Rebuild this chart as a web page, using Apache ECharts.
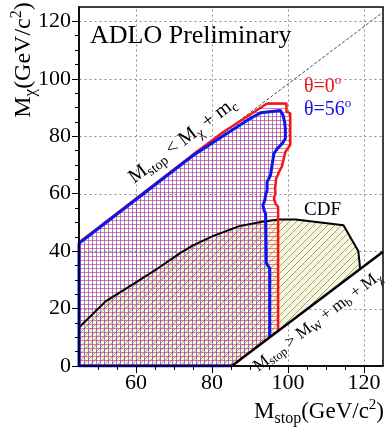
<!DOCTYPE html>
<html><head><meta charset="utf-8">
<script src="https://cdn.jsdelivr.net/npm/echarts@6/dist/echarts.min.js"></script>
<style>html,body{margin:0;padding:0;background:#fff}#c{width:385px;height:429px}</style>
</head><body><div id="c"></div>
<script>
// ---- axis ticks ----
const xMajorTicks = [60, 80, 100, 120];
const xMinorTicks = [50, 55, 60, 65, 70, 75, 80, 85, 90, 95, 100, 105, 110, 115, 120];
const yMajorTicks = [0, 20, 40, 60, 80, 100, 120];
const yMinorTicks = [5, 10, 15, 20, 25, 30, 35, 40, 45, 50, 55, 60, 65, 70, 75, 80, 85, 90, 95, 100, 105, 110, 115, 120];
const xGridLines = [60, 80, 100, 120];
const yGridLines = [20, 40, 60, 80, 100, 120];
const xRange = [45, 125];
const yRange = [0, 125];

// ---- excluded region boundaries (M_stop, M_chi) ----
const theta0Region = [[45,0],[45,43.0],[75,73.6],[82.8,81.3],[94.5,91.4],[99.6,91.4],[99.6,88.5],[100.6,88.0],[100.6,77.0],[99.3,74.5],[98.4,69.5],[97.8,68.0],[96.9,65.3],[96.6,61.8],[96.7,60.0],[96.3,58.3],[96.7,56.6],[97.4,55.4],[97.4,12.2],[85.2,0]];
const theta0Outline = [[97.4,12.2],[97.4,55.4],[96.7,56.6],[96.3,58.3],[96.7,60.0],[96.6,61.8],[96.9,65.3],[97.8,68.0],[98.4,69.5],[99.3,74.5],[100.6,77.0],[100.6,88.0],[99.6,88.5],[99.6,91.4],[94.5,91.4],[82.8,81.3],[75,73.6],[45,43.0]];
const theta56Region = [[45,0],[45,42.7],[75,73.3],[82.8,80.0],[89.3,85.6],[92.8,88.2],[98.0,89.0],[98.7,87.3],[99.1,85.0],[99.3,82.7],[99.3,79.2],[98.5,77.5],[97.2,75.7],[96.3,74.0],[95.8,69.9],[95.4,66.4],[94.5,64.1],[94.5,61.2],[94.1,59.5],[93.9,57.7],[93.4,56.0],[93.7,54.3],[94.1,53.1],[94.3,35.7],[95.2,34.0],[95.2,10.0],[85.2,0]];
const theta56Outline = [[95.2,10.0],[95.2,34.0],[94.3,35.7],[94.1,53.1],[93.7,54.3],[93.4,56.0],[93.9,57.7],[94.1,59.5],[94.5,61.2],[94.5,64.1],[95.4,66.4],[95.8,69.9],[96.3,74.0],[97.2,75.7],[98.5,77.5],[99.3,79.2],[99.3,82.7],[99.1,85.0],[98.7,87.3],[98.0,89.0],[92.8,88.2],[89.3,85.6],[82.8,80.0],[75,73.3],[45,42.7],[45,0],[85.2,0]];
const cdfRegion = [[45,0],[45,13.4],[52,22.5],[60.2,29.3],[66,34.2],[71.5,39.2],[75,42.0],[80.2,45.2],[87.2,48.7],[93.2,50.2],[97.6,51.0],[102,51.0],[114.6,49.0],[118.5,40.0],[118.9,35.0],[118.9,33.7],[85.2,0]];
const cdfOutline = [[45,13.4],[52,22.5],[60.2,29.3],[66,34.2],[71.5,39.2],[75,42.0],[80.2,45.2],[87.2,48.7],[93.2,50.2],[97.6,51.0],[102,51.0],[114.6,49.0],[118.5,40.0],[118.9,35.0],[118.9,33.7]];
const kinematicLine = [[85.2,0],[125,39.8]];   // M_stop = M_W + m_b + M_chi
const charmLine = [[45,43.2],[125,123.2]];     // M_stop = M_chi + m_c

// ---- hatch patterns ----
function hatch(w, h, draw) {
  const c = document.createElement('canvas'); c.width = w; c.height = h;
  draw(c.getContext('2d'), w, h); return c;
}
const redHatch = hatch(4, 4, g => { g.fillStyle = 'rgba(232,80,92,0.75)'; g.fillRect(0, 0, 4, 1); });
const blueHatch = hatch(4, 4, g => { g.fillStyle = 'rgba(96,70,210,0.68)'; g.fillRect(0, 0, 1, 4); });
const cdfHatch = hatch(7, 7, g => {
  g.fillStyle = '#f7f5e4'; g.fillRect(0, 0, 7, 7);
  g.strokeStyle = '#a8a95a'; g.lineWidth = 1; g.beginPath();
  g.moveTo(-1, 8); g.lineTo(8, -1); g.moveTo(-1, 1); g.lineTo(1, -1); g.moveTo(6, 8); g.lineTo(8, 6);
  g.stroke();
});

const SERIF = 'Liberation Serif';
function polySeries(points, fill, z) {
  return {
    type: 'custom', xAxisIndex: 0, yAxisIndex: 0, z: z, silent: true,
    data: [points[0]],
    renderItem: (params, api) => ({
      type: 'polygon',
      shape: { points: points.map(p => api.coord(p)) },
      style: { fill: fill, stroke: null }
    })
  };
}
function lineSeries(points, color, width, z, type) {
  return {
    type: 'line', xAxisIndex: 0, yAxisIndex: 0, z: z, silent: true,
    data: points, showSymbol: false, symbol: 'none', animation: false,
    lineStyle: { color: color, width: width, type: type || 'solid' }
  };
}
const gridStyle = { stroke: '#8c8c8c', lineWidth: 1, lineDash: [2, 3] };
function gridSeries(values, vertical) {
  return {
    type: 'custom', xAxisIndex: 0, yAxisIndex: 0, z: 1, silent: true,
    data: values.map(v => vertical ? [v, yRange[0]] : [xRange[0], v]),
    renderItem: (params, api) => {
      const v = values[params.dataIndex];
      const a = vertical ? api.coord([v, yRange[0]]) : api.coord([xRange[0], v]);
      const b = vertical ? api.coord([v, yRange[1]]) : api.coord([xRange[1], v]);
      return { type: 'line', shape: { x1: Math.round(a[0]) + 0.5, y1: Math.round(a[1]) + 0.5, x2: Math.round(b[0]) + 0.5, y2: Math.round(b[1]) + 0.5 }, style: gridStyle };
    }
  };
}

const chart = echarts.init(document.getElementById('c'), null, { renderer: 'canvas' });
const labelStyle = { fontFamily: SERIF, fontSize: 22, color: '#000' };
const option = {
  animation: false,
  backgroundColor: '#fff',
  grid: { left: 79, right: 2, top: 7, bottom: 63, show: true, borderColor: '#000', borderWidth: 1.5, backgroundColor: 'transparent' },
  xAxis: [
    { type: 'value', min: xRange[0], max: xRange[1], position: 'bottom', z: 10,
      axisLine: { show: true, onZero: false, lineStyle: { color: '#000', width: 1.5 } },
      axisTick: { show: true, inside: false, length: 4, customValues: xMinorTicks, lineStyle: { color: '#000' } },
      axisLabel: { show: false }, splitLine: { show: false } },
    { type: 'value', min: xRange[0], max: xRange[1], position: 'bottom', z: 10,
      axisLine: { show: false, onZero: false },
      axisTick: { show: true, inside: false, length: 7, customValues: xMajorTicks, lineStyle: { color: '#000' } },
      axisLabel: Object.assign({ show: true, margin: 6, customValues: xMajorTicks }, labelStyle),
      splitLine: { show: false } }
  ],
  yAxis: [
    { type: 'value', min: yRange[0], max: yRange[1], position: 'left', z: 10,
      axisLine: { show: true, onZero: false, lineStyle: { color: '#000', width: 1.5 } },
      axisTick: { show: true, inside: false, length: 4, customValues: yMinorTicks, lineStyle: { color: '#000' } },
      axisLabel: { show: false }, splitLine: { show: false } },
    { type: 'value', min: yRange[0], max: yRange[1], interval: 20, position: 'left', z: 10,
      axisLine: { show: false, onZero: false },
      axisTick: { show: true, inside: false, length: 7, customValues: yMajorTicks, lineStyle: { color: '#000' } },
      axisLabel: Object.assign({ show: true, margin: 8, customValues: yMajorTicks }, labelStyle),
      splitLine: { show: false } }
  ],
  series: [
    gridSeries(xGridLines, true),
    gridSeries(yGridLines, false),
    polySeries(cdfRegion, { image: cdfHatch, repeat: 'repeat' }, 2),
    polySeries(theta0Region, { image: redHatch, repeat: 'repeat' }, 3),
    polySeries(theta56Region, { image: blueHatch, repeat: 'repeat' }, 4),
    lineSeries(charmLine, '#444', 1, 5, [3, 2]),
    lineSeries(cdfOutline, '#000', 2, 6),
    lineSeries(theta0Outline, '#f01818', 2.5, 7),
    lineSeries(theta56Outline, '#0a16ee', 3, 8),
    lineSeries(kinematicLine, '#000', 2.5, 9)
  ]
};
chart.setOption(option);

// ---- text annotations ----
const px = p => chart.convertToPixel({ xAxisIndex: 0, yAxisIndex: 0 }, p);
function slopeAngle(line) {
  const a = px(line[0]), b = px(line[1]);
  return Math.atan2(a[1] - b[1], b[0] - a[0]);
}
function rich(size) {
  return {
    m: { fontFamily: SERIF, fontSize: size, lineHeight: Math.round(size * 1.25), verticalAlign: 'middle', fill: '#000' },
    s: { fontFamily: SERIF, fontSize: Math.round(size * 0.7), lineHeight: Math.round(size * 0.7), verticalAlign: 'bottom', fill: '#000' },
    p: { fontFamily: SERIF, fontSize: Math.round(size * 0.65), lineHeight: Math.round(size * 0.65), verticalAlign: 'top', fill: '#000' }
  };
}
const angC = slopeAngle(charmLine);
const angK = slopeAngle(kinematicLine);
const upPos = px([72.3, 78.5]);
const lowPos = px([107.8, 15.6]);
chart.setOption({
  graphic: [
    { type: 'text', x: 90, y: 36, z: 20, style: { text: 'ADLO Preliminary', fontFamily: SERIF, fontSize: 26, fill: '#000', align: 'left', verticalAlign: 'middle' } },
    { type: 'text', x: 304, y: 87, z: 20, style: { text: '{m|θ=0}{p|o}', rich: (() => { const r = rich(20); r.m.fill = '#e81818'; r.p.fill = '#e81818'; return r; })(), align: 'left', verticalAlign: 'middle' } },
    { type: 'text', x: 304, y: 110, z: 20, style: { text: '{m|θ=56}{p|o}', rich: (() => { const r = rich(20); r.m.fill = '#1010e8'; r.p.fill = '#1010e8'; return r; })(), align: 'left', verticalAlign: 'middle' } },
    { type: 'text', x: 304, y: 210, z: 20, style: { text: 'CDF', fontFamily: SERIF, fontSize: 19, fill: '#000', align: 'left', verticalAlign: 'middle' } },
    { type: 'text', x: upPos[0], y: upPos[1], rotation: angC, z: 20, style: { text: '{m|M}{s|stop}{m| < M}{s|χ}{m| + m}{s|c}', rich: rich(20), align: 'center', verticalAlign: 'middle' } },
    { type: 'text', x: lowPos[0], y: lowPos[1], rotation: angK, z: 20, style: { text: '{m|M}{s|stop}{m| > M}{s|W}{m| + m}{s|b}{m| + M}{s|χ}', rich: rich(17), align: 'center', verticalAlign: 'middle' } },
    { type: 'text', x: 24, y: 60, rotation: Math.PI / 2, z: 20, style: { text: '{m|M}{s|χ}{m|(GeV/c}{p|2}{m|)}', rich: rich(24), align: 'center', verticalAlign: 'middle' } },
    { type: 'text', x: 384, y: 412, z: 20, style: { text: '{m|M}{s|stop}{m|(GeV/c}{p|2}{m|)}', rich: rich(23), align: 'right', verticalAlign: 'middle' } }
  ]
});
</script></body></html>
